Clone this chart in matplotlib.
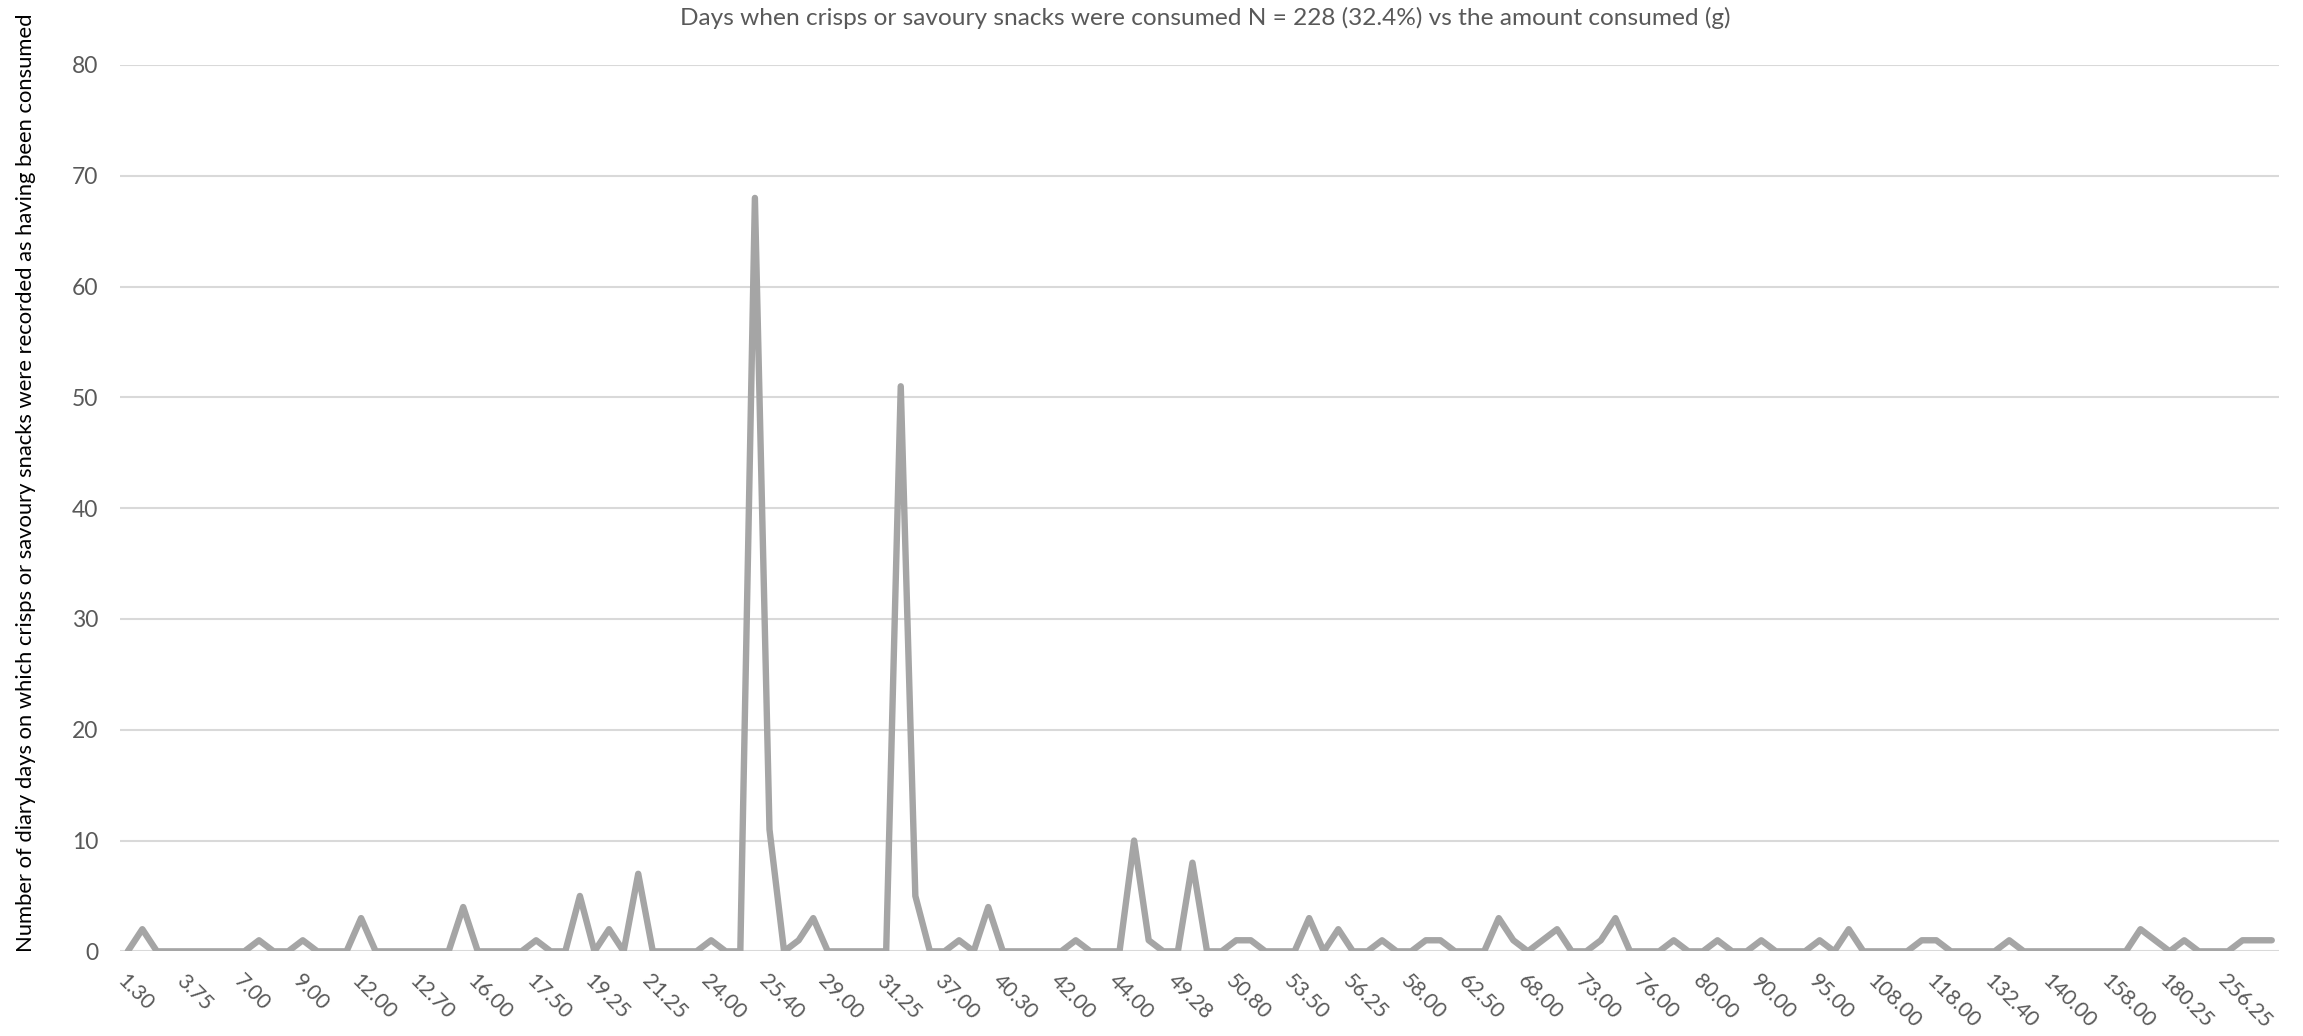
import matplotlib.pyplot as plt
import numpy as np

plt.rcParams['font.family'] = ['Lato', 'DejaVu Sans']

# amount consumed (g) - only every 4th category label is shown on the axis
tick_labels = ['1.30', '3.75', '7.00', '9.00', '12.00', '12.70', '16.00', '17.50',
               '19.25', '21.25', '24.00', '25.40', '29.00', '31.25', '37.00', '40.30',
               '42.00', '44.00', '49.28', '50.80', '53.50', '56.25', '58.00', '62.50',
               '68.00', '73.00', '76.00', '80.00', '90.00', '95.00', '108.00', '118.00',
               '132.40', '140.00', '158.00', '180.25', '256.25']

# number of diary days for each amount (148 categories)
days = [0, 2, 0, 0, 0, 0, 0, 0, 0, 1,
        0, 0, 1, 0, 0, 0, 3, 0, 0, 0,
        0, 0, 0, 4, 0, 0, 0, 0, 1, 0,
        0, 5, 0, 2, 0, 7, 0, 0, 0, 0,
        1, 0, 0, 68, 11, 0, 1, 3, 0, 0,
        0, 0, 0, 51, 5, 0, 0, 1, 0, 4,
        0, 0, 0, 0, 0, 1, 0, 0, 0, 10,
        1, 0, 0, 8, 0, 0, 1, 1, 0, 0,
        0, 3, 0, 2, 0, 0, 1, 0, 0, 1,
        1, 0, 0, 0, 3, 1, 0, 1, 2, 0,
        0, 1, 3, 0, 0, 0, 1, 0, 0, 1,
        0, 0, 1, 0, 0, 0, 1, 0, 2, 0,
        0, 0, 0, 1, 1, 0, 0, 0, 0, 1,
        0, 0, 0, 0, 0, 0, 0, 0, 2, 1,
        0, 1, 0, 0, 0, 1, 1, 1]

x = np.arange(len(days))

fig = plt.figure(figsize=(23.03, 10.36), dpi=100)
ax = fig.add_axes([0.0523, 0.0817, 0.9373, 0.8556])

ax.plot(x, days, color='#a5a5a5', linewidth=4.6,
        solid_joinstyle='round', solid_capstyle='round', zorder=3)

ax.set_xlim(-0.5, len(days) - 0.5)
ax.set_ylim(0, 80)
ax.set_yticks(np.arange(0, 81, 10))
ax.yaxis.grid(True, color='#d9d9d9', linewidth=1.5)
ax.set_axisbelow(True)
for s in ax.spines.values():
    s.set_visible(False)

ax.set_xticks(x[::4])
ax.set_xticklabels(tick_labels, rotation=-45, ha='left', va='top',
                   rotation_mode='anchor')
ax.tick_params(axis='both', length=0, colors='#595959', labelsize=16.5)
ax.tick_params(axis='x', labelsize=15.3, pad=14)
ax.tick_params(axis='y', pad=16)

fig.text(0.5235, 0.983,
         'Days when crisps or savoury snacks were consumed N = 228 (32.4%) vs the amount consumed (g)',
         ha='center', va='center', fontsize=17.6, color='#595959')

fig.text(0.0115, 0.534,
         'Number of diary days on which crisps or savoury snacks were recorded as having been consumed',
         rotation=90, ha='center', va='center', fontsize=15.8, color='#000000')

fig.savefig('out.png', dpi=100)
